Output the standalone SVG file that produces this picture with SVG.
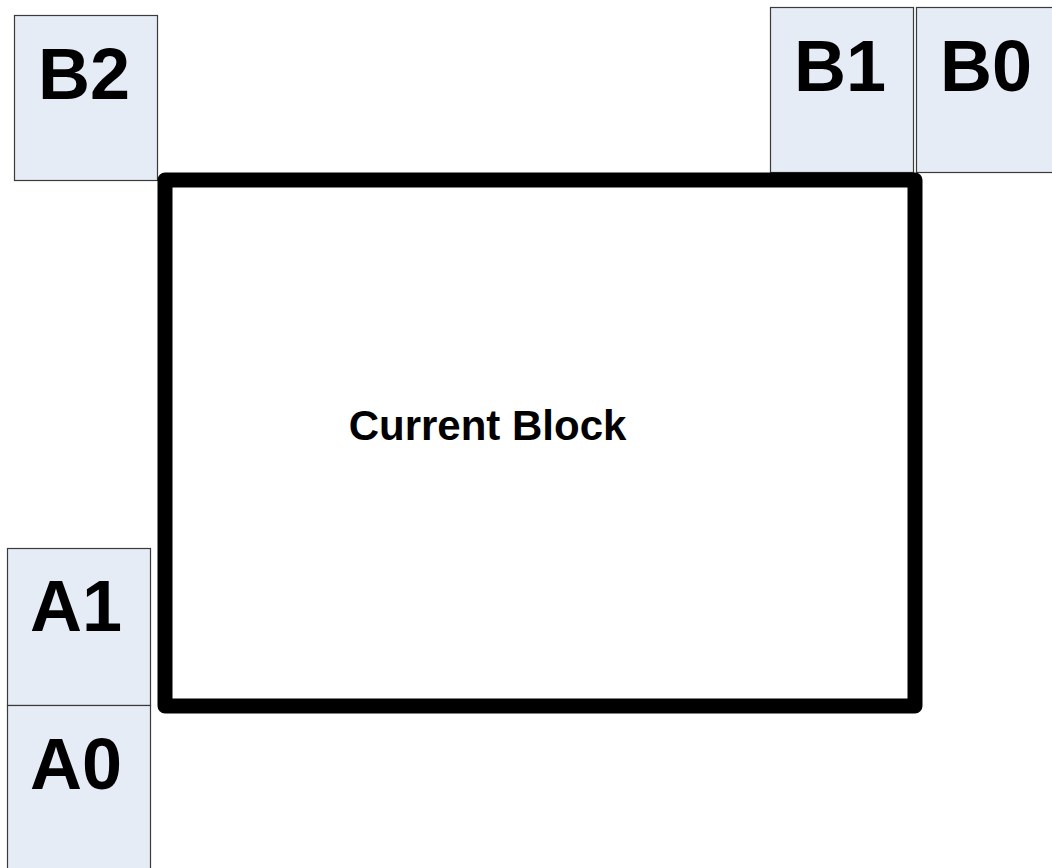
<svg xmlns="http://www.w3.org/2000/svg" width="1052" height="868" viewBox="0 0 1052 868">
<style>
.cell{fill:#e6ecf6;stroke:#3a3a3a;stroke-width:1.2}
.lbl{font-family:"Liberation Sans",Arial,sans-serif;font-weight:bold;font-size:72px;fill:#000;text-anchor:middle}
.cur{fill:#fff;stroke:#000;stroke-width:15;stroke-linejoin:round}
.curt{font-family:"Liberation Sans",Arial,sans-serif;font-weight:bold;font-size:42px;fill:#000;text-anchor:middle}
</style>
<rect width="1052" height="868" fill="#fff"/>
<g id="B2"><rect class="cell" x="14.5" y="15.5" width="143" height="165"/><text class="lbl" x="84" y="99">B2</text></g>
<g id="B1"><rect class="cell" x="770.5" y="7.5" width="143" height="165"/><text class="lbl" x="840" y="91">B1</text></g>
<g id="B0"><rect class="cell" x="916.5" y="7.5" width="143" height="165"/><text class="lbl" x="986" y="91">B0</text></g>
<g id="A1"><rect class="cell" x="7.5" y="548.5" width="143" height="157"/><text class="lbl" x="76" y="631">A1</text></g>
<g id="A0"><rect class="cell" x="7.5" y="705.5" width="143" height="170"/><text class="lbl" x="76" y="789">A0</text></g>
<g id="current"><rect class="cur" x="165" y="180" width="750" height="526"/><text class="curt" x="487.5" y="440">Current Block</text></g>
<g id="connectors"></g>
</svg>
